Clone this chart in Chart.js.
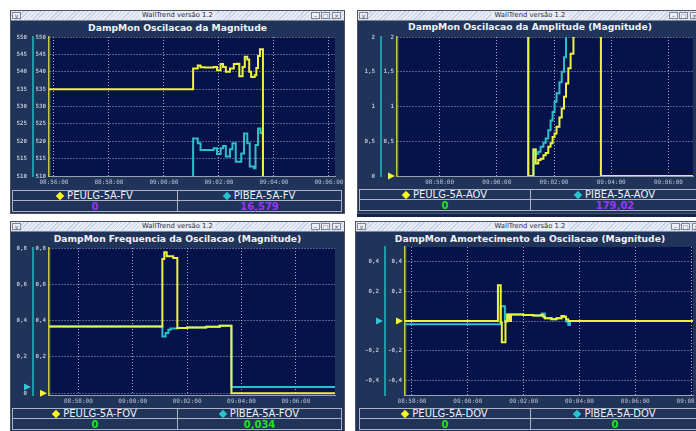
<!DOCTYPE html>
<html>
<head>
<meta charset="utf-8">
<script src="https://cdn.jsdelivr.net/npm/chart.js@4.4.1/dist/chart.umd.min.js"></script>
<style>
html,body{margin:0;padding:0;background:#ffffff;}
body{position:relative;width:696px;height:431px;overflow:hidden;font-family:"DejaVu Sans",sans-serif;}
.abs{position:absolute;box-sizing:border-box;}
.win{background:#20345a;border:1px solid #4e5666;}
.tbar{background:repeating-linear-gradient(135deg,#c6d0e6 0px,#c6d0e6 1px,#e8ecf5 1px,#e8ecf5 3px);border-bottom:1px solid #7c869a;}
.ttext{font-size:6.8px;color:#2a2e3a;background:#e8ecf5;padding:0 3px;line-height:9px;white-space:nowrap;transform:translateX(-50%);}
.btn{background:#eceef5;border:1px solid #7f8698;font-size:6px;line-height:5px;text-align:center;color:#4a4f5c;overflow:hidden;}
.ctitle{font-weight:bold;font-size:9.2px;color:#f0f2f6;white-space:nowrap;transform:translate(-50%,-50%);line-height:11px;}
.leg{border:1px solid #a9b2c6;}
.cell{display:flex;align-items:center;justify-content:center;color:#eef0f5;white-space:nowrap;}
.dia{display:inline-block;width:6px;height:6px;transform:rotate(45deg);margin-right:4px;}
canvas{position:absolute;}
</style>
</head>
<body>
<script>
// ================= DATA (times in minutes relative to 09:00:00) =================
const p1Title = 'DampMon Oscilacao da Magnitude';
const p1Names = ['PEULG-5A-FV', 'PIBEA-5A-FV'];
const p1Current = [0, 16.579];
const p1State = ['alarm', 'alarm'];
const p1XTicks = [-4, -2, 0, 2, 4, 6];
const p1YTicks = [510, 515, 520, 525, 530, 535, 540, 545, 550];
const p1YellowTimes = [-4.5, 1.06, 1.23, 1.33, 1.47, 1.81, 1.93, 2.06, 2.15, 2.25, 2.40, 2.54, 2.66, 2.74, 2.86, 2.94, 3.03, 3.10, 3.17, 3.30, 3.36, 3.42, 3.49, 3.60, 6.5];
const p1Yellow = [535, 540.9, 541.8, 541.3, 541.2, 541.4, 540.4, 542.2, 541.4, 540.0, 540.9, 542.2, 542.3, 538.7, 541.4, 544.3, 543.5, 540.0, 538.5, 539.0, 541.1, 544.5, 546.5, 0, 0];
const p1CyanTimes = [-4.5, 1.06, 1.23, 1.33, 1.81, 1.93, 2.06, 2.15, 2.25, 2.40, 2.49, 2.61, 2.81, 2.91, 3.03, 3.12, 3.27, 3.33, 3.42, 3.51, 3.60, 6.5];
const p1Cyan = [16.579, 520.8, 519.4, 517.5, 518.0, 516.3, 518.0, 518.6, 515.6, 517.7, 519.4, 514.1, 516.5, 522.2, 519.4, 512.7, 512.2, 518.9, 523.7, 522.4, 16.579, 16.579];

const p2Title = 'DampMon Oscilacao da Amplitude (Magnitude)';
const p2Names = ['PEULG-5A-AOV', 'PIBEA-5A-AOV'];
const p2Current = [0, 179.02];
const p2State = ['ok', 'alarm'];
const p2XTicks = [-2, 0, 2, 4, 6];
const p2YTicks = [0, 0.5, 1, 1.5, 2];
const p2YellowTimes = [-4, 1.10, 1.28, 1.36, 1.45, 1.53, 1.63, 1.71, 1.80, 1.88, 1.95, 2.02, 2.09, 2.19, 2.27, 2.35, 2.42, 2.50, 2.58, 2.68, 3.64, 7.5];
const p2Yellow = [4.2, 0, 0.38, 0.18, 0.23, 0.25, 0.30, 0.33, 0.42, 0.47, 0.56, 0.61, 0.71, 0.84, 0.97, 1.14, 1.33, 1.55, 1.76, 2.4, 0, 0];
const p2CyanTimes = [-4, 1.10, 1.28, 1.36, 1.45, 1.53, 1.63, 1.71, 1.80, 1.88, 1.95, 2.02, 2.09, 2.19, 2.27, 2.35, 2.42, 7.5];
const p2Cyan = [4.2, 0, 0.38, 0.32, 0.35, 0.42, 0.48, 0.54, 0.66, 0.80, 0.92, 1.07, 1.19, 1.35, 1.50, 1.71, 179.02, 179.02];

const p3Title = 'DampMon Frequencia da Oscilacao (Magnitude)';
const p3Names = ['PEULG-5A-FOV', 'PIBEA-5A-FOV'];
const p3Current = [0, 0.034];
const p3State = ['ok', 'ok'];
const p3XTicks = [-2, 0, 2, 4, 6];
const p3YTicks = [0, 0.2, 0.4, 0.6, 0.8];
const p3YellowTimes = [-4, 1.09, 1.16, 1.25, 1.49, 1.64, 2.0, 2.7, 3.2, 3.63, 8];
const p3Yellow = [0.368, 0.739, 0.776, 0.755, 0.745, 0.359, 0.362, 0.366, 0.371, 0, 0];
const p3CyanTimes = [-4, 1.09, 1.21, 1.31, 1.39, 1.64, 2.0, 2.7, 3.2, 3.63, 8];
const p3Cyan = [0.368, 0.313, 0.331, 0.349, 0.356, 0.359, 0.362, 0.366, 0.371, 0.034, 0.034];

const p4Title = 'DampMon Amortecimento da Oscilacao (Magnitude)';
const p4Names = ['PEULG-5A-DOV', 'PIBEA-5A-DOV'];
const p4Current = [0, 0];
const p4State = ['ok', 'ok'];
const p4XTicks = [-2, 0, 2, 4, 6, 8];
const p4YTicks = [-0.4, -0.2, 0, 0.2, 0.4];
const p4YellowTimes = [-3, 1.08, 1.18, 1.22, 1.35, 1.41, 1.485, 1.545, 1.99, 2.345, 2.644, 2.70, 2.76, 3.00, 3.18, 3.36, 3.44, 3.52, 3.60, 8.5];
const p4Yellow = [0, 0.241, -0.01, -0.144, 0, 0.044, 0, 0.044, 0.040, 0.038, 0.040, 0.029, 0.018, 0.011, 0.018, 0.033, 0.029, 0.011, 0, 0];
const p4CyanTimes = [-3, 1.18, 1.33, 1.41, 1.485, 1.545, 1.99, 2.345, 2.644, 2.76, 3.00, 3.18, 3.36, 3.44, 3.52, 3.60, 3.66, 8.5];
const p4Cyan = [-0.022, 0.10, -0.005, 0.044, 0, 0.044, 0.040, 0.038, 0.051, 0.018, 0.011, 0.018, 0.033, 0.029, -0.004, -0.027, 0, 0];

// ================= STYLE / LAYOUT =================
const YELLOW = '#eef23c', CYAN = '#2fbccb';
const TICK_COLOR = '#bcc4d4', GRID = 'rgba(200,208,230,0.8)';
const STATE_COLOR = {ok: '#22e022', alarm: '#9b34f5'};

const PANELS = [
  {title: p1Title, names: p1Names, cur: p1Current, state: p1State, xTicks: p1XTicks, yTicks: p1YTicks,
   yT: p1YellowTimes, yV: p1Yellow, cT: p1CyanTimes, cV: p1Cyan, xr: [-4.18, 6.22], yr: [510, 550],
   win: {l: 10, t: 10, w: 335, h: 204}, cv: {l: 11, t: 31, w: 333, h: 158},
   ax: {outerW: 22, innerW: 16, padTop: 6, padRight: 9, xH: 13}, leg: {l: 12, t: 190, mid: 177, r: 342}, titleY: 27},
  {title: p2Title, names: p2Names, cur: p2Current, state: p2State, xTicks: p2XTicks, yTicks: p2YTicks,
   yT: p2YellowTimes, yV: p2Yellow, cT: p2CyanTimes, cV: p2Cyan, xr: [-3.49, 6.86], yr: [0, 2],
   win: {l: 357, t: 10, w: 346, h: 204}, cv: {l: 358, t: 31, w: 338, h: 158},
   ax: {outerW: 23, innerW: 16, padTop: 6, padRight: 3, xH: 13}, leg: {l: 359, t: 189, mid: 530, r: 700}, titleY: 26},
  {title: p3Title, names: p3Names, cur: p3Current, state: p3State, xTicks: p3XTicks, yTicks: p3YTicks,
   yT: p3YellowTimes, yV: p3Yellow, cT: p3CyanTimes, cV: p3Cyan, xr: [-3.08, 7.44], yr: [-0.01, 0.8],
   win: {l: 10, t: 221, w: 335, h: 215}, cv: {l: 11, t: 242, w: 333, h: 165},
   ax: {outerW: 22, innerW: 16, padTop: 6, padRight: 9, xH: 12}, leg: {l: 12, t: 408, mid: 177, r: 342}, titleY: 238},
  {title: p4Title, names: p4Names, cur: p4Current, state: p4State, xTicks: p4XTicks, yTicks: p4YTicks,
   yT: p4YellowTimes, yV: p4Yellow, cT: p4CyanTimes, cV: p4Cyan, xr: [-2.25, 8.07], yr: [-0.5, 0.5],
   win: {l: 355, t: 221, w: 350, h: 215}, cv: {l: 356, t: 242, w: 340, h: 165},
   ax: {outerW: 29, innerW: 20, padTop: 5, padRight: 3, xH: 12}, leg: {l: 359, t: 408, mid: 530, r: 700}, titleY: 238}
];

// ================= HELPERS =================
const px = n => n + 'px';
function el(cls, css, html) {
  const d = document.createElement('div');
  d.className = 'abs ' + cls;
  Object.assign(d.style, css);
  if (html !== undefined) d.innerHTML = html;
  document.body.appendChild(d);
  return d;
}
function pad2(n) { return (n < 10 ? '0' : '') + n; }
function fmtTime(m) {
  const tot = Math.round((540 + m) * 60);
  return pad2(Math.floor(tot / 3600)) + ':' + pad2(Math.floor((tot % 3600) / 60)) + ':' + pad2(tot % 60);
}
function fmtNum(v) { return String(Math.round(v * 1000) / 1000).replace('.', ','); }

const bgPlugin = {
  id: 'plotbg',
  beforeDraw(chart) {
    const {ctx, chartArea: a} = chart;
    ctx.save();
    ctx.fillStyle = '#06134a';
    ctx.fillRect(a.left + 2, a.top, a.right - a.left - 2, a.bottom - a.top);
    ctx.restore();
  }
};
function markerPlugin(cur) {
  return {
    id: 'curmarker',
    afterDraw(chart) {
      const ctx = chart.ctx;
      [['yy', cur[0], '#f4f43c'], ['yc', cur[1], '#35c4d4']].forEach(([id, v, col]) => {
        const s = chart.scales[id];
        if (v < s.min || v > s.max) return;
        const y = s.getPixelForValue(v);
        const x = s.right - 2;
        ctx.save();
        ctx.fillStyle = col;
        ctx.beginPath();
        ctx.moveTo(x, y);
        ctx.lineTo(x - 7, y - 3.5);
        ctx.lineTo(x - 7, y + 3.5);
        ctx.closePath();
        ctx.fill();
        ctx.restore();
      });
    }
  };
}

function yAxis(P, which) {
  const inner = which === 'yy';
  const step = P.yTicks[1] - P.yTicks[0];
  const cur = inner ? P.cur[0] : P.cur[1];
  return {
    type: 'linear', position: 'left', weight: inner ? 0 : 1,
    min: P.yr[0], max: P.yr[1],
    afterBuildTicks: s => { s.ticks = P.yTicks.map(v => ({value: v})); },
    afterFit: s => { s.width = inner ? P.ax.innerW : P.ax.outerW; s.paddingTop = 0; s.paddingBottom = 0; },
    ticks: {
      autoSkip: false, padding: inner ? 3 : 6, color: TICK_COLOR,
      font: {family: 'DejaVu Sans Mono', size: 5.8, weight: 'bold'},
      callback: v => (Math.abs(v - cur) < 0.15 * step ? '' : fmtNum(v))
    },
    grid: inner ? {color: GRID, lineWidth: 1, drawTicks: false} : {drawOnChartArea: false, drawTicks: false},
    border: inner ? {color: '#c8c83c', width: 1.5, dash: [1, 2]} : {color: '#1e9aa8', width: 2}
  };
}

function makeChart(P) {
  const c = document.createElement('canvas');
  c.width = P.cv.w; c.height = P.cv.h;
  c.style.left = px(P.cv.l); c.style.top = px(P.cv.t);
  c.style.width = px(P.cv.w); c.style.height = px(P.cv.h);
  document.body.appendChild(c);
  const line = (times, vals, color, axis, label) => ({
    label, data: times.map((t, i) => ({x: t, y: vals[i]})), yAxisID: axis,
    borderColor: color, borderWidth: 2, stepped: true, pointRadius: 0, fill: false, tension: 0
  });
  new Chart(c, {
    type: 'line',
    data: {datasets: [
      line(P.yT, P.yV, YELLOW, 'yy', P.names[0]),
      line(P.cT, P.cV, CYAN, 'yc', P.names[1])
    ]},
    options: {
      responsive: false, animation: false, devicePixelRatio: 1,
      layout: {padding: {top: P.ax.padTop, right: P.ax.padRight, left: 0, bottom: 0}},
      plugins: {legend: {display: false}, tooltip: {enabled: false}, title: {display: false}},
      scales: {
        x: {
          type: 'linear', position: 'bottom', min: P.xr[0], max: P.xr[1],
          afterBuildTicks: s => { s.ticks = P.xTicks.map(v => ({value: v})); },
          afterFit: s => { s.height = P.ax.xH; s.paddingLeft = 0; s.paddingRight = 0; },
          ticks: {autoSkip: false, maxRotation: 0, padding: 3, color: TICK_COLOR,
                  font: {family: 'DejaVu Sans Mono', size: 6}, callback: v => fmtTime(v)},
          grid: {color: GRID, lineWidth: 1, drawTicks: false},
          border: {color: '#98a0b4', width: 1, dash: [1, 2]}
        },
        yc: yAxis(P, 'yc'),
        yy: yAxis(P, 'yy')
      }
    },
    plugins: [bgPlugin, markerPlugin(P.cur)]
  });
}

// ================= BUILD =================
// strip of a window lying underneath (visible below the top-right window)
el('', {left: px(357), top: px(213), width: px(339), height: px(4), background: '#142448'});
PANELS.forEach(P => {
  const w = P.win;
  el('win', {left: px(w.l), top: px(w.t), width: px(w.w), height: px(w.h)});
  el('tbar', {left: px(w.l + 1), top: px(w.t + 1), width: px(w.w - 2), height: px(10)});
  el('ttext', {left: px(w.l + w.w / 2), top: px(w.t + 1)}, 'WallTrend versão 1.2');
  el('btn', {left: px(w.l + 2), top: px(w.t + 2), width: px(9), height: px(7)}, 'v');
  [['–', 34], ['□', 24], ['×', 13]].forEach(([g, o]) =>
    el('btn', {left: px(w.l + w.w - o), top: px(w.t + 2), width: px(9), height: px(7)}, g));
  el('ctitle', {left: px(w.l + w.w / 2), top: px(P.titleY)}, P.title);

  const g = P.leg, W = g.r - g.l;
  el('leg', {left: px(g.l), top: px(g.t), width: px(W), height: px(22)});
  el('', {left: px(g.l), top: px(g.t + 10), width: px(W), height: '1px', background: '#a9b2c6'});
  el('', {left: px(g.mid), top: px(g.t), width: '1px', height: px(22), background: '#a9b2c6'});
  for (let i = 0; i < 2; i++) {
    const cl = i ? g.mid + 1 : g.l + 1;
    const cw = i ? g.r - 1 - (g.mid + 1) : g.mid - (g.l + 1);
    el('cell', {left: px(cl), top: px(g.t + 1), width: px(cw), height: px(9), fontSize: '10px'},
       '<span class="dia" style="background:' + (i ? '#27c3d2' : '#f6f61e') + '"></span>' + P.names[i]);
    el('cell', {left: px(cl), top: px(g.t + 11), width: px(cw), height: px(10), fontSize: '10px',
                fontWeight: 'bold', color: STATE_COLOR[P.state[i]]}, fmtNum(P.cur[i]));
  }
  makeChart(P);
});
</script>
</body>
</html>
